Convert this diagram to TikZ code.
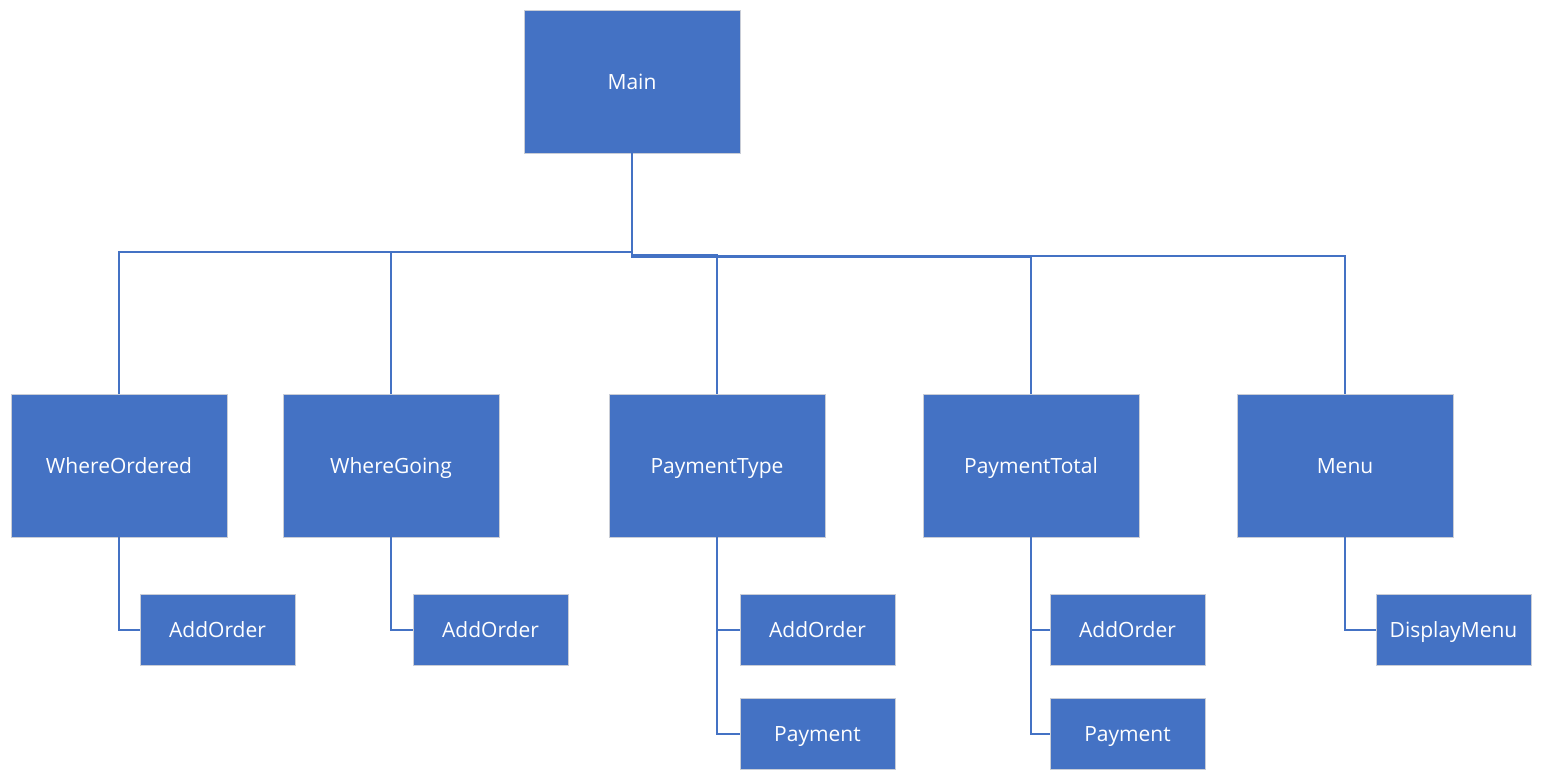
\documentclass[tikz,border=0pt]{standalone}
\usepackage{fontspec}
\setmainfont{Open Sans}
\definecolor{boxblue}{HTML}{4472C4}
\definecolor{edgegray}{HTML}{C9CDD6}
\begin{document}
\begin{tikzpicture}[x=1pt,y=-1pt,
  boxbase/.style={draw=edgegray,line width=0.8pt,fill=boxblue,text=white,inner sep=0pt,font=\fontsize{21}{24}\selectfont,text height=19pt,text depth=3pt},
  bigbox/.style={boxbase,minimum width=216pt,minimum height=143pt},
  smallbox/.style={boxbase,minimum width=155pt,minimum height=71pt},
  conn/.style={draw=boxblue,line width=2pt}]
\useasboundingbox (0,0) rectangle (1542,780);
\node[bigbox] (main) at (632,81.5) {Main};
\node[bigbox] (wo) at (119,465.5) {WhereOrdered};
\node[bigbox] (wg) at (391,465.5) {WhereGoing};
\node[bigbox] (pty) at (717,465.5) {PaymentType};
\node[bigbox] (pto) at (1031,465.5) {PaymentTotal};
\node[bigbox] (menu) at (1345,465.5) {Menu};
\node[smallbox] (wo1) at (217.5,629.5) {AddOrder};
\node[smallbox] (wg1) at (490.5,629.5) {AddOrder};
\node[smallbox] (pty1) at (817.5,629.5) {AddOrder};
\node[smallbox] (pty2) at (817.5,733.5) {Payment};
\node[smallbox] (pto1) at (1127.5,629.5) {AddOrder};
\node[smallbox] (pto2) at (1127.5,733.5) {Payment};
\node[smallbox] (menu1) at (1453.5,629.5) {DisplayMenu};
% connectors from Main
\draw[conn] (main.south) |- (119,252) -- (wo.north);
\draw[conn] (main.south) |- (391,252) -- (wg.north);
\draw[conn] (main.south) |- (717,255) -- (pty.north);
\draw[conn] (main.south) |- (1031,257) -- (pto.north);
\draw[conn] (main.south) |- (1345,256) -- (menu.north);
% sub connectors
\draw[conn] (wo.south) |- (wo1.west);
\draw[conn] (wg.south) |- (wg1.west);
\draw[conn] (pty.south) |- (pty1.west);
\draw[conn] (pty.south) |- (pty2.west);
\draw[conn] (pto.south) |- (pto1.west);
\draw[conn] (pto.south) |- (pto2.west);
\draw[conn] (menu.south) |- (menu1.west);
\end{tikzpicture}
\end{document}
